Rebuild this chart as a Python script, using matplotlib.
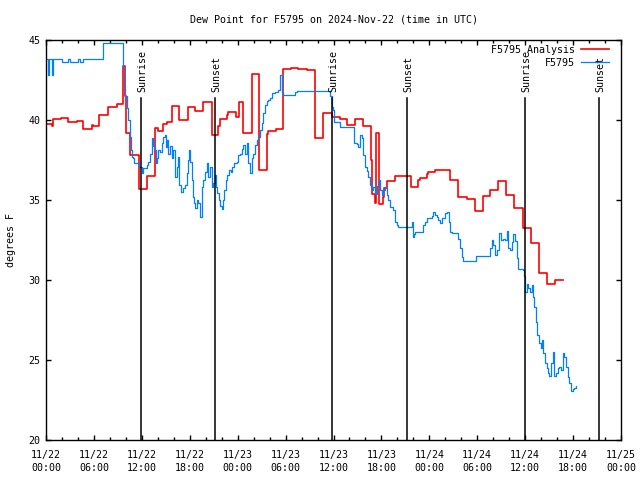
import pandas as pd
import matplotlib
matplotlib.use('Agg')
import matplotlib.pyplot as plt
import matplotlib.transforms as mtransforms
from matplotlib.ticker import MultipleLocator, FuncFormatter

# hours since 2024-11-22 00:00 UTC
start = pd.Timestamp('2024-11-22 00:00')

# analysis (red), step series
red_hours = [0.09, 0.71, 0.88, 1.84, 2.79, 3.84, 4.67, 5.72, 5.92, 6.67, 7.73, 8.85, 9.6, 9.89,
             10.02, 10.52, 11.68, 12.68, 13.69, 14.06, 14.69, 15.11, 15.74, 16.69, 17.74, 18.66,
             19.62, 20.75, 21.58, 21.79, 22.63, 22.83, 23.79, 24.2, 24.71, 25.76, 26.71, 27.64,
             27.84, 28.8, 29.64, 30.64, 31.59, 32.64, 33.68, 34.72, 35.77, 36.81, 37.65, 38.69,
             39.66, 40.66, 40.86, 41.2, 41.32, 41.66, 42.16, 42.33, 42.74, 43.7, 45.7, 46.62,
             46.83, 47.67, 47.87, 48.71, 49.75, 50.59, 51.63, 52.68, 53.72, 54.68, 55.6, 56.64,
             57.6, 58.64, 59.69, 60.69, 61.73, 62.7, 63.74, 64.7]
red_vals = [39.75, 39.6, 40.04, 40.1, 39.85, 39.92, 39.42, 39.7, 39.6, 40.31, 40.8, 41.0, 43.4, 41.5,
            39.17, 37.8, 35.67, 36.5, 39.48, 39.3, 39.73, 39.85, 40.9, 40.0, 40.8, 40.56,
            41.15, 39.06, 39.6, 40.04, 40.3, 40.52, 40.2, 41.15, 39.17, 42.9, 36.9, 39.1,
            39.33, 39.42, 43.17, 43.23, 43.17, 43.1, 38.9, 40.42, 40.17, 40.04, 39.69, 40.04,
            39.6, 37.5, 35.4, 34.8, 39.17, 34.75, 35.2, 35.73, 36.2, 36.52, 35.8, 36.25,
            36.4, 36.6, 36.77, 36.9, 36.85, 36.25, 35.17, 35.04, 34.3, 35.27, 35.6, 36.2,
            35.3, 34.48, 33.23, 32.3, 30.42, 29.75, 30.0, 30.0]

# station observations (blue)
blue_hours = [0.09, 0.2, 0.35, 0.7, 0.85, 1.96, 2.7, 2.95, 4.0, 4.3, 4.6, 7.17, 9.6, 9.77, 9.89,
              10.18, 10.31, 10.52, 10.64, 10.77, 10.93, 11.02, 11.68, 11.98, 12.18, 12.61, 12.81,
              13.02, 13.23, 13.44, 13.65, 13.77, 13.94, 14.06, 14.27, 14.49, 14.69, 14.9, 15.03,
              15.19, 15.31, 15.53, 15.74, 15.94, 16.15, 16.36, 16.49, 16.69, 16.87, 17.12, 17.41,
              17.62, 17.74, 17.87, 18.03, 18.24, 18.37, 18.53, 18.66, 18.87, 19.07, 19.28, 19.5,
              19.7, 19.91, 20.12, 20.33, 20.54, 20.75, 20.95, 21.16, 21.29, 21.45, 21.66, 21.79,
              22.0, 22.12, 22.29, 22.54, 22.7, 22.92, 23.13, 23.33, 23.54, 23.88, 24.08, 24.29,
              24.5, 24.71, 24.92, 25.13, 25.33, 25.54, 25.76, 25.96, 26.17, 26.38, 26.58, 26.8,
              27.0, 27.21, 27.42, 27.64, 27.84, 28.05, 28.26, 28.46, 28.68, 28.89, 29.09, 29.3,
              29.51, 29.71, 31.18, 31.39, 35.56, 35.77, 35.98, 36.06, 36.81, 38.57, 38.9, 39.11,
              39.32, 39.53, 39.66, 39.73, 39.94, 40.16, 40.36, 40.57, 40.78, 40.98, 41.2, 41.41,
              41.61, 41.82, 42.04, 42.24, 42.45, 42.66, 42.86, 43.08, 43.49, 43.7, 43.91, 44.11,
              45.79, 45.92, 46.08, 46.21, 47.17, 47.46, 47.67, 48.08, 48.3, 48.5, 48.71, 48.92,
              49.12, 49.34, 49.55, 49.96, 50.17, 50.5, 50.59, 50.8, 51.63, 51.84, 52.05, 52.25,
              53.84, 55.6, 55.81, 56.01, 56.22, 56.44, 56.76, 56.94, 57.26, 57.48, 57.69, 57.89,
              58.1, 58.31, 58.52, 58.73, 58.94, 59.14, 59.69, 59.86, 59.98, 60.19, 60.39, 60.61,
              60.82, 60.94, 61.11, 61.36, 61.52, 61.73, 61.95, 62.15, 62.27, 62.48, 62.7, 62.9,
              63.02, 63.24, 63.45, 63.65, 63.86, 64.07, 64.27, 64.49, 64.7, 64.86, 65.11, 65.33,
              65.53, 65.74, 65.95, 66.15, 66.37]
blue_vals = [43.8, 42.8, 43.8, 42.8, 43.8, 43.6, 43.8, 43.6, 43.8, 43.6, 43.8, 44.8, 43.3, 42.2, 41.5,
             40.75, 40.0, 38.96, 38.1, 37.7, 37.6, 37.33, 37.08, 36.67, 37.0, 37.2, 37.4,
             37.9, 38.85, 38.4, 38.1, 37.3, 37.6, 38.1, 38.0, 38.54, 38.96, 39.06, 38.33,
             38.75, 37.9, 38.4, 37.6, 38.1, 36.46, 37.08, 37.7, 35.94, 35.5, 35.73, 35.94,
             36.67, 37.5, 38.1, 37.4, 36.25, 35.2, 34.8, 34.48, 35.0, 34.8, 33.96, 35.83,
             36.25, 36.77, 37.3, 36.46, 37.08, 35.83, 36.04, 36.56, 35.83, 35.42, 35.0, 34.6,
             34.42, 35.0, 35.6, 36.25, 36.56, 36.9, 36.73, 37.08, 37.3, 37.4, 37.8, 37.9,
             38.2, 38.44, 37.9, 38.54, 37.3, 36.67, 37.6, 37.9, 38.44, 38.75, 38.96, 39.38,
             39.8, 40.42, 40.94, 41.2, 41.25, 41.35, 41.67, 41.7, 41.77, 41.77, 41.9, 42.8,
             41.77, 41.56, 41.77, 41.81, 41.5, 40.83, 40.6, 39.9, 39.58, 38.58, 38.5, 38.33,
             39.06, 38.9, 38.33, 37.8, 37.08, 36.8, 36.46, 35.94, 35.6, 35.8, 35.4, 35.9,
             36.25, 35.6, 35.3, 35.6, 35.8, 35.3, 35.0, 34.58, 34.4, 33.65, 33.45, 33.33,
             33.6, 32.7, 32.9, 33.02, 33.44, 33.65, 33.85, 33.9, 34.0, 34.27, 34.06, 33.96,
             33.75, 33.54, 33.85, 34.17, 34.23, 33.6, 33.02, 32.92, 32.54, 31.98, 31.46, 31.19,
             31.52, 32.0, 32.5, 32.2, 31.56, 31.9, 32.92, 32.5, 32.55, 32.5, 33.08, 31.98,
             31.9, 32.4, 32.9, 32.44, 31.35, 30.67, 30.6, 30.25, 29.27, 29.75, 29.48, 29.27,
             29.7, 28.96, 28.33, 27.4, 26.56, 26.04, 25.73, 26.25, 25.42, 24.79, 24.48, 24.17,
             24.0, 24.79, 25.52, 24.0, 24.17, 24.48, 24.58, 24.38, 25.42, 25.2, 24.58, 23.96,
             23.54, 23.06, 23.17, 23.25, 23.38]

sunrise_hours = [11.93, 35.87, 59.94]
sunset_hours = [21.19, 45.24, 69.25]


def hour_label(h, pos):
    t = start + pd.Timedelta(hours=h)
    return t.strftime('%m/%d\n%H:%M')


plt.rcParams['font.family'] = 'DejaVu Sans Mono'
plt.rcParams['font.size'] = 7.2

fig = plt.figure(figsize=(6.4, 4.8), dpi=100)
ax = fig.add_axes([46/640, 40/480, 575/640, 400/480])

ax.step(red_hours, red_vals, where='post', color='#ff0000', lw=1.2, label='F5795 Analysis')
ax.step(blue_hours, blue_vals, where='post', color='#0080ff', lw=0.9, label='F5795')

trans = mtransforms.blended_transform_factory(ax.transData, ax.transAxes)
for name, hours in (('Sunrise', sunrise_hours), ('Sunset', sunset_hours)):
    for h in hours:
        ax.axvline(h, ymin=0, ymax=0.855, color='black', lw=1.1)
        ax.text(h + 0.15, 0.87, name, transform=trans, rotation=90,
                ha='center', va='bottom')

ax.set_xlim(0, 72)
ax.set_ylim(20, 45)
ax.xaxis.set_major_locator(MultipleLocator(6))
ax.xaxis.set_minor_locator(MultipleLocator(2))
ax.xaxis.set_major_formatter(FuncFormatter(hour_label))
ax.yaxis.set_major_locator(MultipleLocator(5))
ax.tick_params(which='both', direction='in', top=True, right=True, width=1)
ax.tick_params(which='major', length=3.5)
ax.tick_params(which='minor', length=2.5)
ax.tick_params(axis='x', pad=7)
ax.tick_params(axis='y', pad=4)
for s in ax.spines.values():
    s.set_linewidth(1)

ax.set_title('Dew Point for F5795 on 2024-Nov-22 (time in UTC)', fontsize=7.2, pad=12.5)
ax.set_ylabel('degrees F', labelpad=9)

ax.legend(loc='upper right', frameon=False, markerfirst=False, handlelength=2.8,
          handletextpad=0.6, labelspacing=0.3, borderaxespad=0.3, borderpad=0.2,
          bbox_to_anchor=(0.988, 1.0))

fig.canvas.draw()
for t in ax.get_xticklabels():
    t.set_linespacing(1.35)

fig.savefig('out.png', dpi=100)
